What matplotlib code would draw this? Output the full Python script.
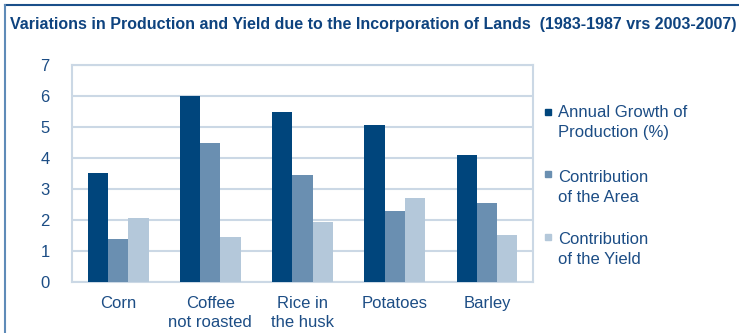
import matplotlib
matplotlib.use("Agg")
import matplotlib.pyplot as plt
import numpy as np
from matplotlib.lines import Line2D
from matplotlib.patches import Rectangle

# Data
categories = ["Corn", "Coffee\nnot roasted", "Rice in\nthe husk", "Potatoes", "Barley"]
series_names = ["Annual Growth of\nProduction (%)", "Contribution\nof the Area", "Contribution\nof the Yield"]
growth = [3.51, 6.0, 5.48, 5.07, 4.11]
area = [1.40, 4.47, 3.44, 2.30, 2.54]
yield_ = [2.06, 1.44, 1.94, 2.70, 1.51]
yticks = [0, 1, 2, 3, 4, 5, 6, 7]

colors = ["#00457c", "#6a8fb1", "#b4c8da"]
text_color = "#1c4d85"
grid_color = "#cbd8e5"

plt.rcParams['font.family'] = ['Liberation Sans', 'DejaVu Sans']

fig = plt.figure(figsize=(7.39, 3.33), dpi=100)
ax = fig.add_axes([0.0974, 0.1532, 0.6239, 0.6517])

x = np.arange(len(categories))
w = 0.22
for i, vals in enumerate([growth, area, yield_]):
    ax.bar(x + (i - 1) * w, vals, width=w, color=colors[i], zorder=3)

ax.set_xlim(-0.5, len(categories) - 0.5)
ax.set_ylim(0, 7)
ax.set_yticks(yticks)
ax.set_xticks(x)
ax.set_xticklabels(categories, fontsize=12, color=text_color, linespacing=1.35)
ax.tick_params(axis='y', length=0, pad=16, labelsize=12, labelcolor=text_color)
ax.tick_params(axis='x', length=0, pad=10)
ax.yaxis.grid(True, color=grid_color, linewidth=1.5, zorder=0)
for s in ax.spines.values():
    s.set_color(grid_color)
    s.set_linewidth(1.5)

# legend drawn by hand so the marker sits on the first line
leg_text_y = [105, 170, 232]
leg_mark_y = [112, 174, 237]
for name, c, ty, my in zip(series_names, colors, leg_text_y, leg_mark_y):
    fig.patches.append(Rectangle((545 / 739, 1 - (my + 3) / 333), 6 / 739, 6 / 333,
                                 transform=fig.transFigure, color=c))
    fig.text(558 / 739, 1 - ty / 333, name, fontsize=12, color=text_color,
             va='top', ha='left', linespacing=1.4)

# title and frame
fig.text(10 / 739, 1 - 25 / 333,
         "Variations in Production and Yield due to the Incorporation of Lands  (1983-1987 vrs 2003-2007)",
         fontsize=11.5, fontweight='bold', color="#0e437f", va='center', ha='left')
fig.add_artist(Line2D([5 / 739, 1], [1 - 5 / 333, 1 - 5 / 333], transform=fig.transFigure,
                      color="#1a4f8a", linewidth=1.5))
fig.add_artist(Line2D([5 / 739, 5 / 739], [0, 1 - 5 / 333], transform=fig.transFigure,
                      color="#5f8bb8", linewidth=1.5))

fig.savefig("out.png", dpi=100)
